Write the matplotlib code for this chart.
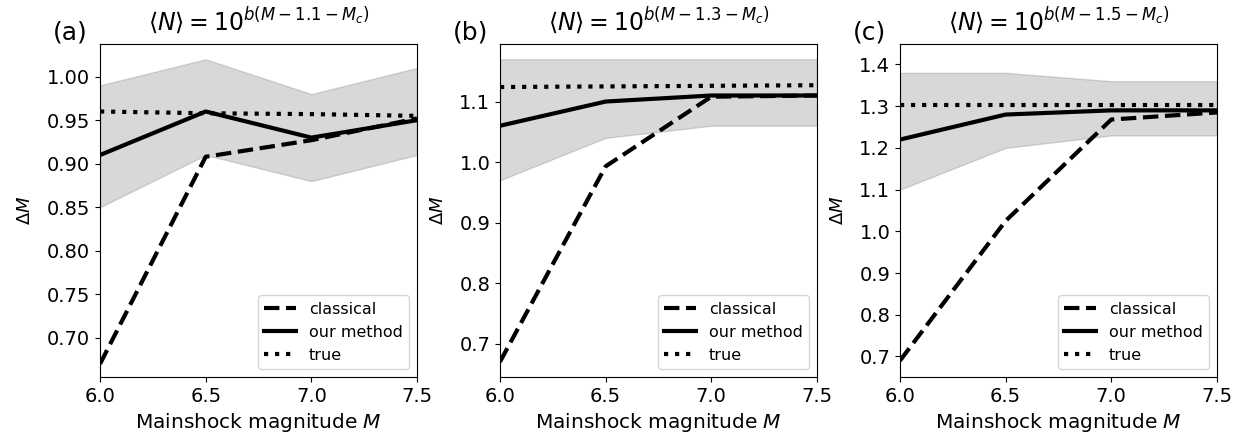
import numpy as np
import matplotlib
matplotlib.use("Agg")
import matplotlib.pyplot as plt

# magnitudes
M = [6.0, 6.5, 7.0, 7.5]

# panel labels / titles
panels = ["(a)", "(b)", "(c)"]
shifts = ["1.1", "1.3", "1.5"]

# classical estimate
classical = [
    [0.67, 0.908, 0.927, 0.952],
    [0.67, 0.993, 1.108, 1.110],
    [0.69, 1.025, 1.268, 1.285],
]
# our method
ours = [
    [0.91, 0.96, 0.93, 0.95],
    [1.06, 1.10, 1.11, 1.11],
    [1.22, 1.28, 1.29, 1.29],
]
# band around our method
band_lo = [
    [0.85, 0.91, 0.88, 0.91],
    [0.97, 1.04, 1.06, 1.06],
    [1.10, 1.20, 1.23, 1.23],
]
band_hi = [
    [0.99, 1.02, 0.98, 1.01],
    [1.17, 1.17, 1.17, 1.17],
    [1.38, 1.38, 1.36, 1.36],
]
# true value
true = [
    [0.960, 0.958, 0.957, 0.955],
    [1.124, 1.125, 1.126, 1.127],
    [1.303, 1.303, 1.303, 1.303],
]

ylims = [(0.655, 1.0375), (0.645, 1.195), (0.651, 1.449)]
yticks = [
    [0.70, 0.75, 0.80, 0.85, 0.90, 0.95, 1.00],
    [0.7, 0.8, 0.9, 1.0, 1.1],
    [0.7, 0.8, 0.9, 1.0, 1.1, 1.2, 1.3, 1.4],
]
yfmt = ["%.2f", "%.1f", "%.1f"]

fig, axes = plt.subplots(1, 3, figsize=(12.43, 4.45), dpi=100)
fig.subplots_adjust(left=0.0805, right=0.979, bottom=0.153, top=0.901, wspace=0.262)

for i, ax in enumerate(axes):
    ax.fill_between(M, band_lo[i], band_hi[i], color="grey", alpha=0.3, lw=1)
    ax.plot(M, classical[i], "k--", lw=3, label="classical")
    ax.plot(M, ours[i], "k-", lw=3, label="our method")
    ax.plot(M, true[i], "k:", lw=3, label="true")
    ax.set_xlim(6.0, 7.5)
    ax.set_ylim(*ylims[i])
    ax.set_xticks([6.0, 6.5, 7.0, 7.5])
    ax.set_yticks(yticks[i])
    ax.set_yticklabels([yfmt[i] % v for v in yticks[i]])
    ax.tick_params(labelsize=14)
    ax.set_xlabel("Mainshock magnitude $M$", fontsize=14.5)
    ax.set_ylabel(r"$\Delta M$", fontsize=13, labelpad=9)
    ax.set_title(r"$\langle N\rangle = 10^{b(M-%s-M_c)}$" % shifts[i], fontsize=17, pad=10)
    ax.text(-0.15, 1.0, panels[i], transform=ax.transAxes, fontsize=18, va="bottom", ha="left")
    ax.legend(loc="lower right", fontsize=11.5)

plt.savefig("out.png", dpi=100)
